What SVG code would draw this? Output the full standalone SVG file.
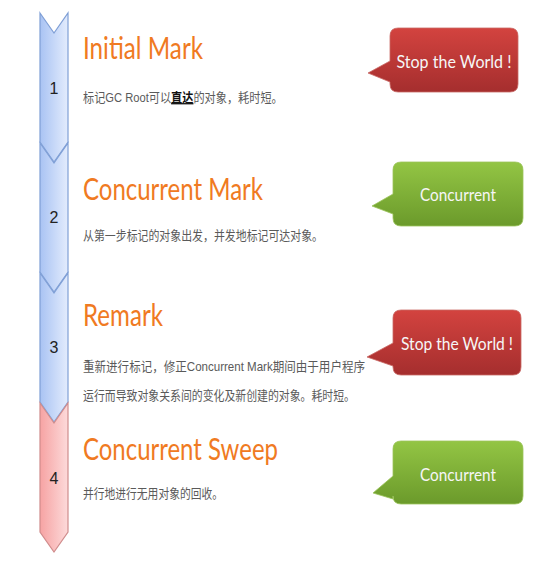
<svg xmlns="http://www.w3.org/2000/svg" width="550" height="566" viewBox="0 0 550 566">
<defs>
<linearGradient id="gBlue" x1="0" y1="0" x2="1" y2="0">
<stop offset="0" stop-color="#a9c3f3"/><stop offset="1" stop-color="#e3ecfd"/>
</linearGradient>
<linearGradient id="gRed" x1="0" y1="0" x2="1" y2="0">
<stop offset="0" stop-color="#f6a3a3"/><stop offset="1" stop-color="#fddada"/>
</linearGradient>
<linearGradient id="gStop" x1="0" y1="0" x2="0" y2="1">
<stop offset="0" stop-color="#d3433f"/><stop offset="1" stop-color="#a52e2e"/>
</linearGradient>
<linearGradient id="gConc" x1="0" y1="0" x2="0" y2="1">
<stop offset="0" stop-color="#93c544"/><stop offset="1" stop-color="#6b9a2b"/>
</linearGradient>
<style>
.blue{fill:url(#gBlue);stroke:#7f9fd6;stroke-width:1.2}
.red{fill:url(#gRed);stroke:#d08c8c;stroke-width:1.2}
.num{font-family:"Liberation Sans",Arial,sans-serif;font-size:16px;fill:#222;text-anchor:middle}
.title{font-family:Lato,"Open Sans",sans-serif;font-size:31px;fill:#f07a22}
.desc{font-family:"Liberation Sans","Noto Sans CJK SC",sans-serif;font-size:13px;fill:#5a5a5a}
.em{font-weight:bold;fill:#111;text-decoration:underline}
.stop{fill:url(#gStop);stroke:#c96a66;stroke-width:0.8}
.conc{fill:url(#gConc);stroke:#9cc45c;stroke-width:0.8}
.btxt{font-family:Lato,"Open Sans",sans-serif;font-size:18px;fill:#f6f6f6;text-anchor:middle}
</style>
</defs>

<g id="step1">
<path class="blue" d="M40,13 L54,33 L68,13 L68,142 L54,162 L40,142 Z"/>
<text class="num" x="54" y="94">1</text>
<text class="title" x="83" y="59" textLength="120" lengthAdjust="spacingAndGlyphs">Initial Mark</text>
<text class="desc" transform="translate(83,102) scale(0.86,1)" x="0" y="0">标记GC Root可以<tspan class="em">直达</tspan>的对象，耗时短。</text>
</g>

<g id="step2">
<path class="blue" d="M40,143 L54,163 L68,143 L68,272 L54,292 L40,272 Z"/>
<text class="num" x="54" y="223">2</text>
<text class="title" x="83" y="200" textLength="180" lengthAdjust="spacingAndGlyphs">Concurrent Mark</text>
<text class="desc" x="83" y="240" textLength="240" lengthAdjust="spacingAndGlyphs">从第一步标记的对象出发，并发地标记可达对象。</text>
</g>

<g id="step3">
<path class="blue" d="M40,273 L54,293 L68,273 L68,402 L54,422 L40,402 Z"/>
<text class="num" x="54" y="353">3</text>
<text class="title" x="83" y="326" textLength="80" lengthAdjust="spacingAndGlyphs">Remark</text>
<text class="desc" x="83" y="371" textLength="282" lengthAdjust="spacingAndGlyphs">重新进行标记，修正Concurrent Mark期间由于用户程序</text>
<text class="desc" x="83" y="400" textLength="272" lengthAdjust="spacingAndGlyphs">运行而导致对象关系间的变化及新创建的对象。耗时短。</text>
</g>

<g id="step4">
<path class="red" d="M40,403 L54,423 L68,403 L68,532 L54,552 L40,532 Z"/>
<text class="num" x="54" y="484">4</text>
<text class="title" x="83" y="460" textLength="195" lengthAdjust="spacingAndGlyphs">Concurrent Sweep</text>
<text class="desc" x="83" y="498" textLength="140" lengthAdjust="spacingAndGlyphs">并行地进行无用对象的回收。</text>
</g>

<g id="callout1">
<path class="stop" d="M398,28 L510,28 Q518,28 518,36 L518,84 Q518,92 510,92 L398,92 Q390,92 390,84 L390,82 L368,73 L390,61 L390,36 Q390,28 398,28 Z"/>
<text class="btxt" x="454" y="68" textLength="115" lengthAdjust="spacingAndGlyphs">Stop the World !</text>
</g>

<g id="callout2">
<path class="conc" d="M401,162 L515,162 Q523,162 523,170 L523,218 Q523,226 515,226 L401,226 Q393,226 393,218 L393,214 L372,206 L393,194 L393,170 Q393,162 401,162 Z"/>
<text class="btxt" x="458" y="201" textLength="76" lengthAdjust="spacingAndGlyphs">Concurrent</text>
</g>

<g id="callout3">
<path class="stop" d="M401,310 L513,310 Q521,310 521,318 L521,367 Q521,375 513,375 L401,375 Q393,375 393,367 L393,366 L367,357 L393,343 L393,318 Q393,310 401,310 Z"/>
<text class="btxt" x="457" y="350" textLength="112" lengthAdjust="spacingAndGlyphs">Stop the World !</text>
</g>

<g id="callout4">
<path class="conc" d="M401,441 L515,441 Q523,441 523,449 L523,496 Q523,504 515,504 L401,504 Q393,504 393,496 L393,499 L373,493 L393,476 L393,449 Q393,441 401,441 Z"/>
<text class="btxt" x="458" y="481" textLength="76" lengthAdjust="spacingAndGlyphs">Concurrent</text>
</g>

<g id="connectors"></g>
</svg>
